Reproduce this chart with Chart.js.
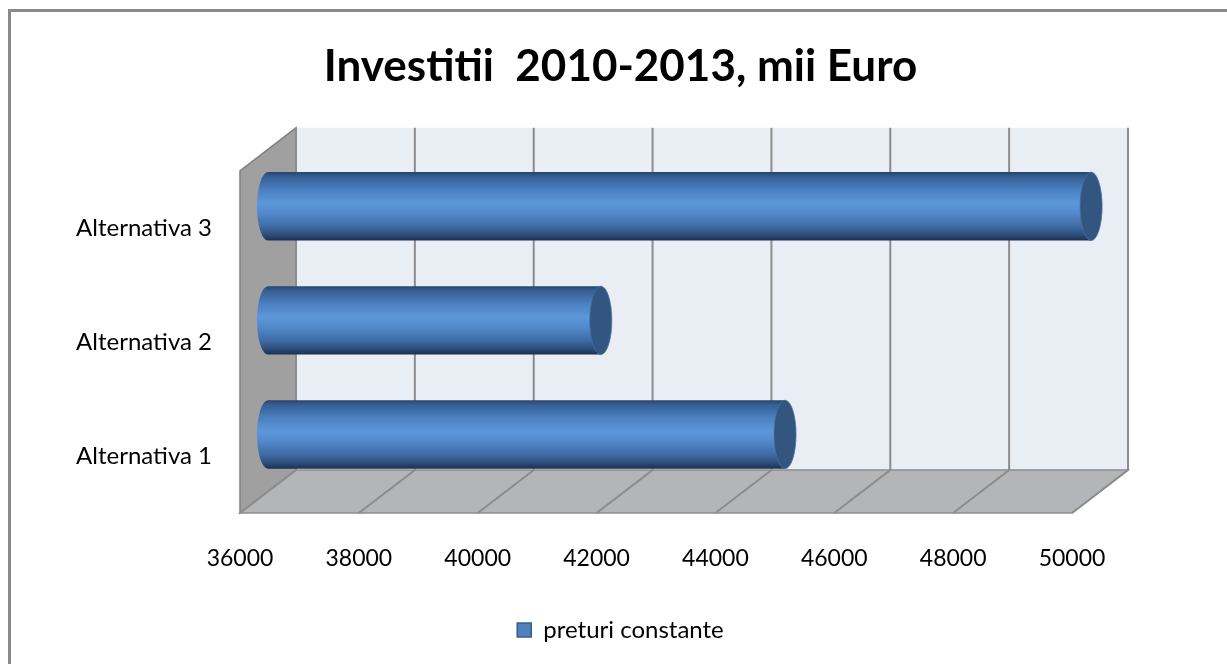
<!DOCTYPE html>
<html>
<head>
<meta charset="utf-8">
<title>Investitii 2010-2013</title>
<script src="https://cdn.jsdelivr.net/npm/chart.js@4.4.1/dist/chart.umd.min.js"></script>
<style>
  html, body { margin: 0; padding: 0; background: #fff; }
  #wrap { position: relative; width: 1227px; height: 664px; }
</style>
</head>
<body>
<div id="wrap"><canvas id="investChart" width="1227" height="664"></canvas></div>
<script>
const categories = ['Alternativa 1', 'Alternativa 2', 'Alternativa 3'];
const preturiConstante = [44700, 41600, 49850];
const seriesLabel = 'preturi constante';
const axisMin = 36000;
const axisMax = 50000;
const axisStep = 2000;

// depth of the 3D box: front edge -> back wall
const DX = 56;
const DY = -43;

const FONT = 'Lato, "Open Sans", sans-serif';

// frame, back wall, side wall, floor and gridlines
const wallsPlugin = {
  id: 'walls',
  beforeDraw(chart) {
    const { ctx, chartArea, scales } = chart;
    const { left, right, top, bottom } = chartArea;
    const x = scales.x;
    ctx.save();

    // outer frame (top and left)
    ctx.strokeStyle = '#8a8a8a';
    ctx.lineWidth = 3;
    ctx.beginPath();
    ctx.moveTo(9.5, 664);
    ctx.lineTo(9.5, 10.5);
    ctx.lineTo(1227, 10.5);
    ctx.stroke();

    // back wall
    ctx.fillStyle = '#e9eef5';
    ctx.fillRect(left + DX, top + DY, right - left, bottom - top);

    // left side wall
    ctx.beginPath();
    ctx.moveTo(left, top);
    ctx.lineTo(left + DX, top + DY);
    ctx.lineTo(left + DX, bottom + DY);
    ctx.lineTo(left, bottom);
    ctx.closePath();
    ctx.fillStyle = '#a0a0a0';
    ctx.fill();
    ctx.strokeStyle = '#808080';
    ctx.lineWidth = 1.5;
    ctx.stroke();

    // floor
    ctx.beginPath();
    ctx.moveTo(left, bottom);
    ctx.lineTo(left + DX, bottom + DY);
    ctx.lineTo(right + DX, bottom + DY);
    ctx.lineTo(right, bottom);
    ctx.closePath();
    ctx.fillStyle = '#b3b5b9';
    ctx.fill();
    ctx.strokeStyle = '#8c8c8c';
    ctx.lineWidth = 1.5;
    ctx.stroke();

    // gridlines on the back wall, continued across the floor
    ctx.strokeStyle = '#8c8c8c';
    ctx.lineWidth = 2;
    x.ticks.forEach(t => {
      const px = x.getPixelForValue(t.value);
      ctx.beginPath();
      ctx.moveTo(px + DX, top + DY);
      ctx.lineTo(px + DX, bottom + DY);
      ctx.lineTo(px, bottom);
      ctx.stroke();
    });
    ctx.restore();
  }
};

function drawCylinder(ctx, x0, x1, cy, h) {
  const ry = h / 2;
  const rx = 11;
  const top = cy - ry;
  const bot = cy + ry;

  const g = ctx.createLinearGradient(0, top, 0, bot);
  g.addColorStop(0, '#26446b');
  g.addColorStop(0.06, '#355d91');
  g.addColorStop(0.25, '#4a7fc0');
  g.addColorStop(0.45, '#5d97da');
  g.addColorStop(0.6, '#5289cb');
  g.addColorStop(0.8, '#3e6aa3');
  g.addColorStop(0.92, '#2c4c78');
  g.addColorStop(1, '#1c3050');

  ctx.beginPath();
  ctx.moveTo(x1, top);
  ctx.lineTo(x0, top);
  ctx.ellipse(x0, cy, rx, ry, 0, -Math.PI / 2, Math.PI / 2, true);
  ctx.lineTo(x1, bot);
  ctx.closePath();
  ctx.fillStyle = g;
  ctx.fill();

  // flat end cap
  ctx.beginPath();
  ctx.ellipse(x1, cy, rx, ry, 0, 0, Math.PI * 2);
  ctx.fillStyle = '#32567f';
  ctx.fill();
  ctx.strokeStyle = 'rgba(70,110,160,0.8)';
  ctx.lineWidth = 1;
  ctx.stroke();
}

// bars are drawn as cylinders sitting halfway into the box depth
const cylinderPlugin = {
  id: 'cylinders',
  beforeDatasetDraw() {
    return false;
  },
  afterDatasetsDraw(chart) {
    const ctx = chart.ctx;
    ctx.save();
    chart.getDatasetMeta(0).data.forEach(el => {
      const { x, y, base, height } = el.getProps(['x', 'y', 'base', 'height'], true);
      drawCylinder(ctx, base + DX / 2, x + DX / 2, y + DY / 2, height);
    });
    ctx.restore();
  }
};

new Chart(document.getElementById('investChart'), {
  type: 'bar',
  data: {
    labels: categories,
    datasets: [{
      label: seriesLabel,
      data: preturiConstante,
      base: axisMin,
      xAxisID: 'x',
      yAxisID: 'y',
      backgroundColor: '#4f81bd',
      borderColor: '#385d8a',
      borderWidth: 1.5,
      barPercentage: 0.6,
      categoryPercentage: 1
    }]
  },
  options: {
    indexAxis: 'y',
    responsive: false,
    animation: false,
    devicePixelRatio: 1,
    layout: {
      padding: { top: 10, left: 0, right: -14, bottom: 12 }
    },
    scales: {
      x: {
        min: axisMin,
        max: axisMax,
        ticks: {
          stepSize: axisStep,
          padding: 32,
          color: '#000',
          font: { family: FONT, size: 23 },
          callback: v => String(v)
        },
        grid: { display: false, drawTicks: false },
        border: { display: false },
        afterFit(scale) { scale.height = 95; }
      },
      y: {
        position: 'left',
        reverse: true,
        ticks: {
          padding: 28,
          color: '#000',
          font: { family: FONT, size: 24 }
        },
        grid: { display: false, drawTicks: false },
        border: { display: false },
        afterFit(scale) { scale.width = 240; }
      },
      // empty right-hand margin so the plot ends at the same place as the walls
      yRight: {
        axis: 'y',
        type: 'category',
        position: 'right',
        ticks: { display: false },
        grid: { display: false, drawTicks: false },
        border: { display: false },
        afterFit(scale) { scale.width = 169; }
      }
    },
    plugins: {
      title: {
        display: true,
        text: 'Investitii  2010-2013, mii Euro',
        color: '#000',
        font: { family: FONT, size: 44, weight: 'bold' },
        padding: { top: 30, bottom: 78 }
      },
      legend: {
        position: 'bottom',
        labels: {
          boxWidth: 14,
          boxHeight: 14,
          color: '#000',
          font: { family: FONT, size: 24 }
        }
      },
      tooltip: { enabled: false }
    }
  },
  plugins: [wallsPlugin, cylinderPlugin]
});
</script>
</body>
</html>
